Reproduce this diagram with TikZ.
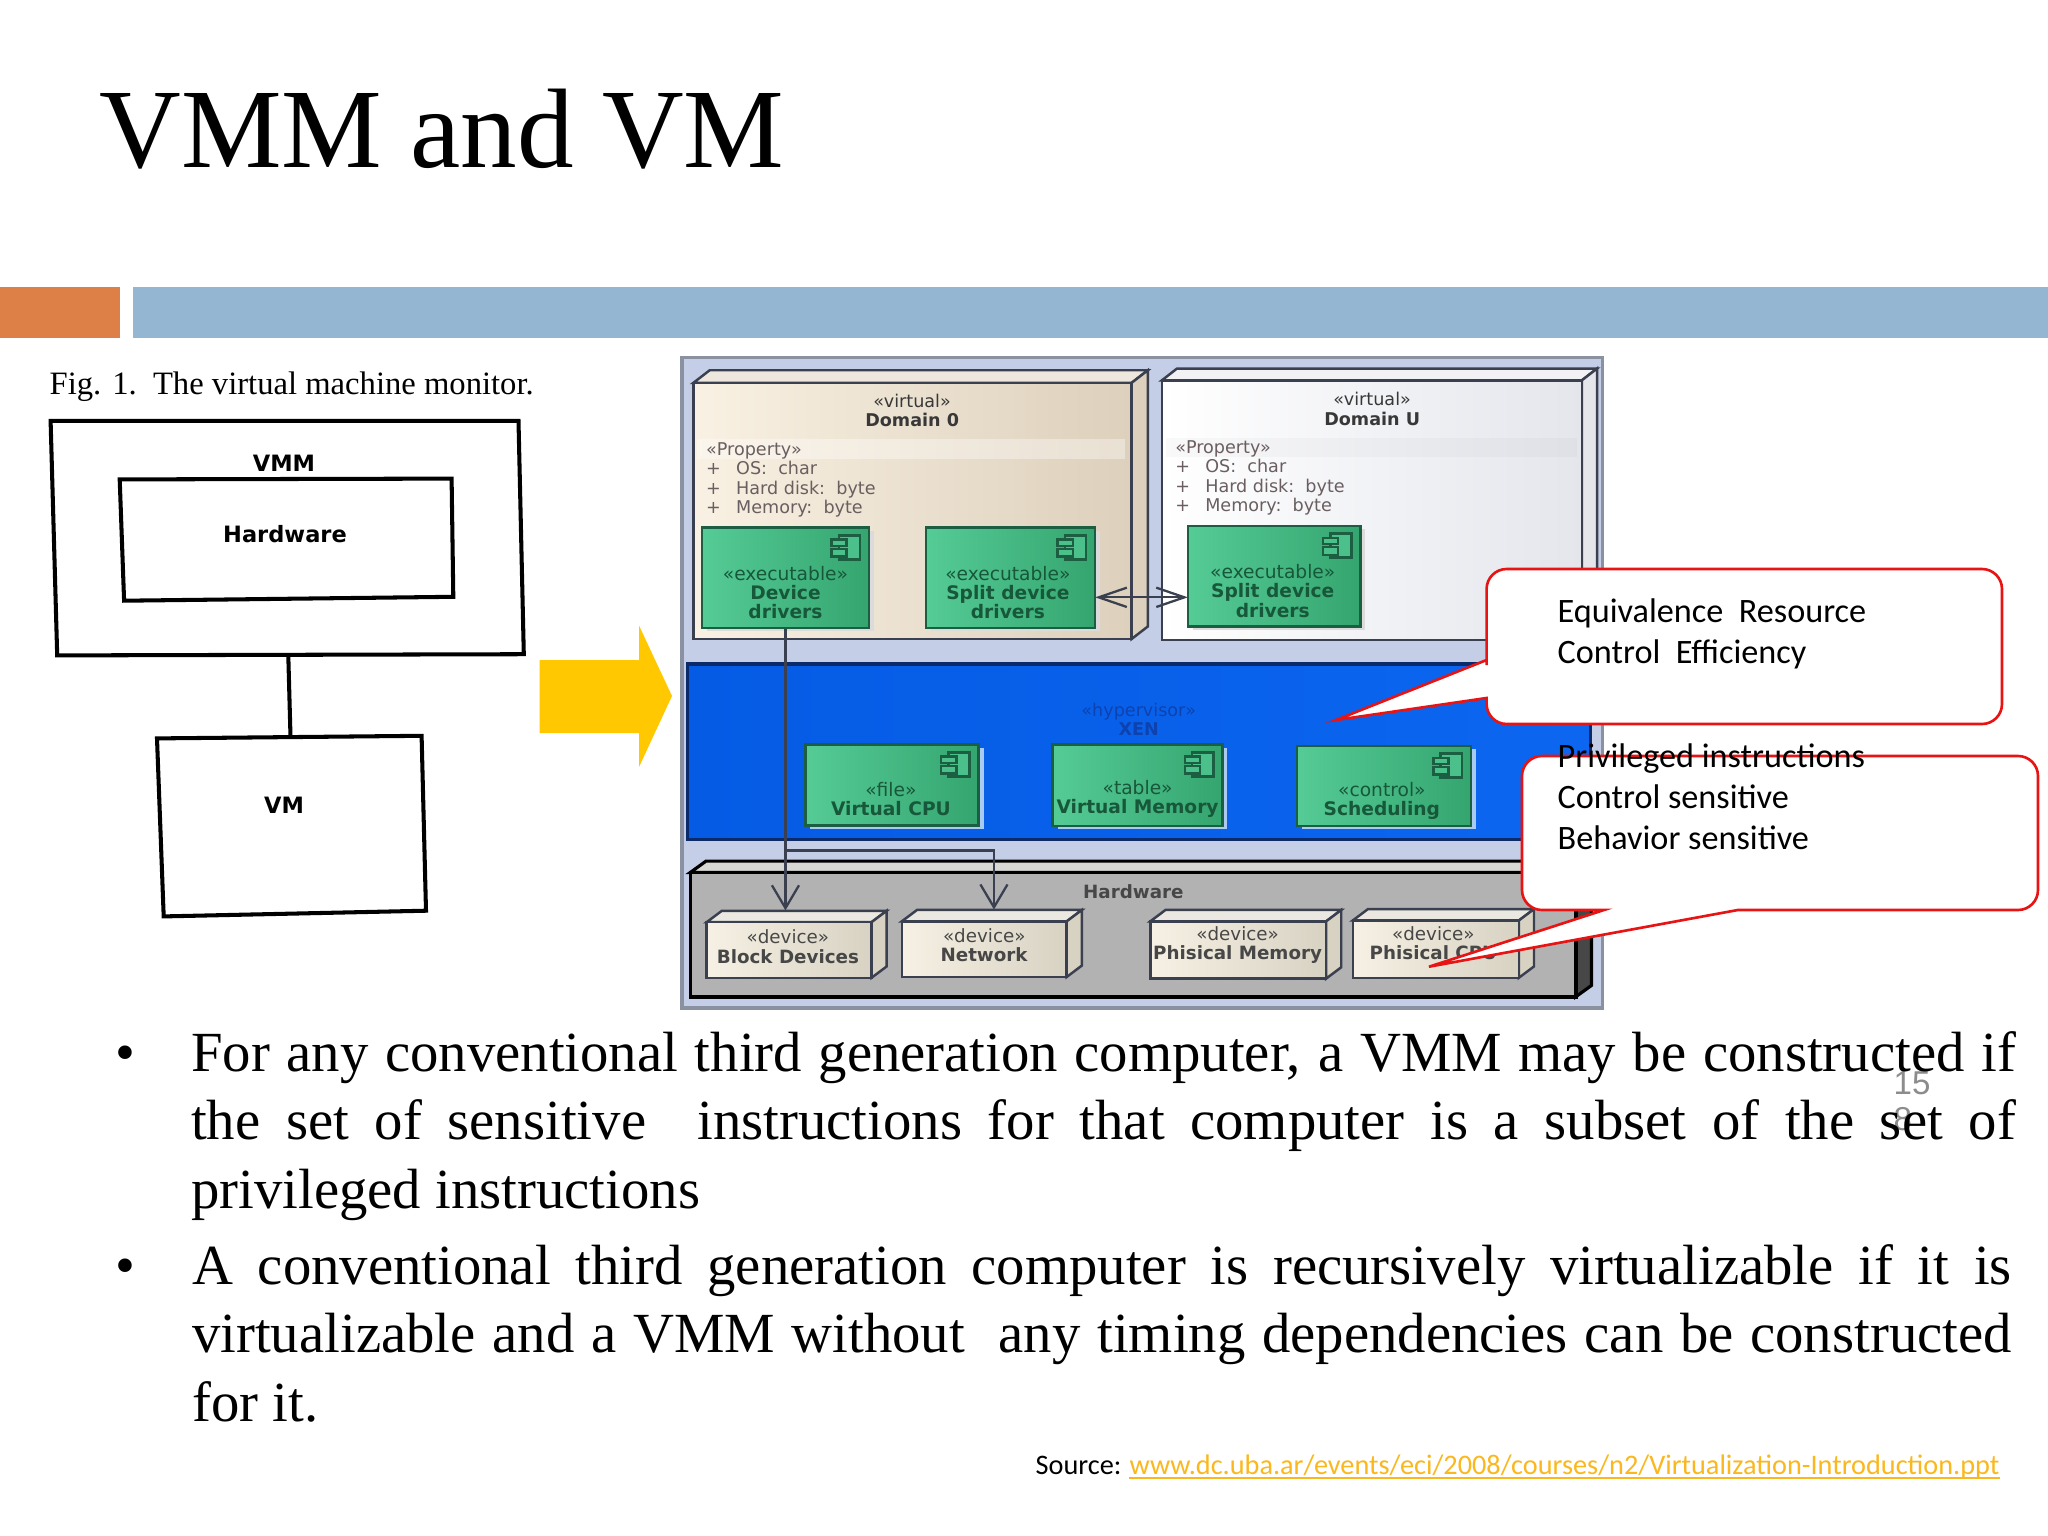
\documentclass[tikz,border=0pt]{standalone}
\usepackage{fontspec}
\setmainfont{Liberation Serif}
\newfontfamily\djfont{DejaVu Sans}
\newfontfamily\carlfont{Carlito}
\newfontfamily\lsfont{Liberation Sans}
\usetikzlibrary{arrows.meta,fit,calc}
\newcommand\fsz[2]{\fontsize{#1}{#2}\selectfont}
\definecolor{barorange}{HTML}{DD8047}
\definecolor{barblue}{HTML}{94B6D2}
\definecolor{arrowyellow}{HTML}{FFC800}
\definecolor{framefill}{HTML}{C4CFE7}
\definecolor{frameline}{HTML}{8A92A2}
\definecolor{pkgline}{HTML}{3A4050}
\definecolor{greenL}{HTML}{55CB96}
\definecolor{greenR}{HTML}{35A56F}
\definecolor{greenline}{HTML}{1C5E42}
\definecolor{greentext}{HTML}{17573A}
\definecolor{xenL}{HTML}{055BE4}
\definecolor{xenR}{HTML}{0C66F0}
\definecolor{xenline}{HTML}{0A2A6A}
\definecolor{xentext}{HTML}{0E42AE}
\definecolor{proptext}{HTML}{6A5E60}
\definecolor{linkcol}{HTML}{FBB81E}
\definecolor{callred}{HTML}{E81414}
\definecolor{pagegray}{HTML}{8C8C8C}
\definecolor{pkzL}{HTML}{F9F1E3}
\definecolor{pkzR}{HTML}{DDD0BC}
\definecolor{pkuL}{HTML}{FFFFFF}
\definecolor{pkuR}{HTML}{E4E6EC}
\definecolor{devL}{HTML}{F6F1E4}
\definecolor{devR}{HTML}{D8D2C3}
\definecolor{hwtop}{HTML}{D8D8D4}
\definecolor{xenshadow}{HTML}{A9CBF2}
\tikzset{
  scanline/.style={line width=1.15pt,black},
  scanlabel/.style={inner sep=0,font=\djfont\bfseries\fsz{6.4}{7}},
  compbox/.style={draw=greenline,line width=0.75pt,left color=greenL,right color=greenR,inner sep=0},
  comptext/.style={inner sep=0,align=center,text=greentext,font=\djfont\fsz{5.3}{5.5}},
  pkgtext/.style={inner sep=0,align=center,text=black!78,font=\djfont\fsz{5}{5.45}},
  devtext/.style={inner sep=0,align=center,text=black!72,font=\djfont\fsz{5.2}{5.45}},
  proptextstyle/.style={inner sep=0,anchor=west,align=left,text=proptext,font=\djfont\fsz{5}{5.55}},
  wire/.style={draw=pkgline,line width=0.65pt},
  callout/.style={draw=callred,fill=white,line width=0.75pt},
  calltext/.style={inner sep=0,anchor=base west,font=\carlfont},
  bodypar/.style={inner sep=0,anchor=base west},
}
% name, x1,y1,x2,y2, shadow colour
\newcommand\compbox[6]{%
  \fill[#6] (#2+8,#3+8) rectangle (#4+8,#5+8);
  \coordinate (#1-a) at (#2,#3);
  \coordinate (#1-b) at (#4,#5);
  \node[compbox,fit=(#1-a)(#1-b)] (#1) {};
  \draw[greenline,line width=0.7pt,fill=greenL!70!greenR] (#4-50,#3+18) rectangle (#4-15,#3+75);
  \draw[greenline,line width=0.7pt,fill=greenL!70!greenR] (#4-62,#3+28) rectangle (#4-37,#3+43);
  \draw[greenline,line width=0.7pt,fill=greenL!70!greenR] (#4-62,#3+50) rectangle (#4-37,#3+68);
}
% name, x1,y1,x2,y2, left colour, right colour (depth in \dxx,\dyy)
\newcommand\solidbox[7]{%
  \coordinate (#1-a) at (#2,#3);
  \coordinate (#1-b) at (#4,#5);
  \draw[pkgline,line width=0.7pt,fill=#7!50!white] (#2,#3) -- (#2+\dxx,#3-\dyy) -- (#4+\dxx,#3-\dyy) -- (#4,#3) -- cycle;
  \draw[pkgline,line width=0.7pt,fill=#7] (#4,#3) -- (#4+\dxx,#3-\dyy) -- (#4+\dxx,#5-\dyy) -- (#4,#5) -- cycle;
  \node[draw=pkgline,line width=0.7pt,left color=#6,right color=#7,inner sep=0,fit=(#1-a)(#1-b)] (#1) {};
}
\begin{document}
\begin{tikzpicture}[x=0.01cm,y=-0.01cm]
\useasboundingbox (0,0) rectangle (2048,1536);
\fill[white] (0,0) rectangle (2048,1536);

% title and bars
\node[inner sep=0,anchor=base west,font=\fsz{32.15}{36}] (title) at (99,167) {VMM and VM};
\fill[barorange] (0,287) rectangle (120,338);
\fill[barblue] (132.5,287) rectangle (2048,338);

% left scanned figure
\node[inner sep=0,anchor=base west,font=\fsz{9.28}{10}] (figcap) at (49,394) {Fig. 1.\ \ The virtual machine monitor.};
\draw[scanline] (50.6,420.8) -- (518.5,420.8) -- (523.8,654.2) -- (57.2,655.4) -- cycle;
\draw[scanline] (119.7,479.4) -- (451.6,478.6) -- (453.3,596.8) -- (124.1,600.7) -- cycle;
\draw[scanline] (157,738.4) -- (421.6,735.8) -- (426,910.7) -- (163.7,916.4) -- cycle;
\coordinate (vmmbottom) at (288.3,655.4);
\coordinate (vmtop) at (290.5,736.8);
\draw[scanline] (vmmbottom) -- (vmtop);
\node[scanlabel] (lblvmm) at (284,463) {VMM};
\node[scanlabel] (lblhw) at (285,534) {Hardware};
\node[scanlabel] (lblvm) at (284,805) {VM};

% yellow arrow
\fill[arrowyellow] (539.6,660) -- (639,660) -- (639,625.5) -- (672,696) -- (639,767) -- (639,733) -- (539.6,733) -- cycle;

% right picture, in the crop's own units
\begin{scope}[shift={(680,350)},x=0.0060606cm,y=-0.0042088cm]
  \draw[frameline,line width=1pt,fill=framefill] (3,18) rectangle (1522,1562);

  \def\dxx{27}\def\dyy{30}
  \solidbox{dom0}{22}{78}{745}{686}{pkzL}{pkzR}
  \def\dxx{25}\def\dyy{28}
  \solidbox{domu}{795}{72}{1488}{688}{pkuL}{pkuR}

  \node[pkgtext] (dom0t) at (383,143) {«virtual»\\\textbf{Domain 0}};
  \node[pkgtext] (domut) at (1142,140) {«virtual»\\\textbf{Domain U}};
  \fill[white,opacity=0.35] (28,212) rectangle (735,258);
  \fill[black,opacity=0.025] (802,208) rectangle (1480,254);
  \node[proptextstyle] (prop0) at (42,308) {«Property»\\\makebox[0.3cm][l]{+}OS:\ \ char\\\makebox[0.3cm][l]{+}Hard disk:\ \ byte\\\makebox[0.3cm][l]{+}Memory:\ \ byte};
  \node[proptextstyle] (propu) at (816,304) {«Property»\\\makebox[0.3cm][l]{+}OS:\ \ char\\\makebox[0.3cm][l]{+}Hard disk:\ \ byte\\\makebox[0.3cm][l]{+}Memory:\ \ byte};

  \compbox{dd}{36}{422}{312}{660}{black!14}
  \compbox{sd}{406}{422}{685}{660}{black!14}
  \compbox{su}{838}{418}{1123}{656}{black!14}
  \node[comptext] (ddt) at (174,576) {«executable»\\\textbf{Device}\\\textbf{drivers}};
  \node[comptext] (sdt) at (541,576) {«executable»\\\textbf{Split device}\\\textbf{drivers}};
  \node[comptext] (sut) at (978,572) {«executable»\\\textbf{Split device}\\\textbf{drivers}};

  % hypervisor
  \coordinate (xen-a) at (12,745); \coordinate (xen-b) at (1502,1162);
  \node[draw=xenline,line width=1pt,left color=xenL,right color=xenR,inner sep=0,fit=(xen-a)(xen-b)] (xen) {};
  \node[inner sep=0,align=center,text=xentext,font=\djfont\fsz{5}{5.45}] (xent) at (757,877) {«hypervisor»\\\textbf{XEN}};
  \compbox{vc}{207}{937}{493}{1128}{xenshadow}
  \compbox{vm}{615}{937}{895}{1130}{xenshadow}
  \compbox{sc}{1018}{940}{1305}{1130}{xenshadow}
  \node[comptext] (vct) at (348,1066) {«file»\\\textbf{Virtual CPU}};
  \node[comptext] (vmt) at (755,1066) {«table»\\\textbf{Virtual Memory}};
  \node[comptext] (sct) at (1158,1070) {«control»\\\textbf{Scheduling}};

  % hardware
  \coordinate (hw-a) at (17,1240); \coordinate (hw-b) at (1478,1535);
  \draw[black,line width=0.9pt,fill=hwtop] (17,1240) -- (43,1213) -- (1504,1213) -- (1478,1240) -- cycle;
  \draw[black,line width=0.9pt,fill=black!72] (1478,1240) -- (1504,1213) -- (1504,1508) -- (1478,1535) -- cycle;
  \node[draw=black,line width=1pt,fill=black!30,inner sep=0,fit=(hw-a)(hw-b)] (hw) {};
  \node[devtext] (hwt) at (748,1286) {\textbf{Hardware}};

  \def\dxx{25}\def\dyy{27}
  \solidbox{bd}{44}{1358}{316}{1490}{devL}{devR}
  \solidbox{nw}{366}{1356}{638}{1488}{devL}{devR}
  \solidbox{pm}{776}{1356}{1066}{1492}{devL}{devR}
  \solidbox{pc}{1110}{1354}{1384}{1490}{devL}{devR}
  \node[devtext] (bdt) at (178,1416) {«device»\\\textbf{Block Devices}};
  \node[devtext] (nwt) at (502,1413) {«device»\\\textbf{Network}};
  \node[devtext] (pmt) at (920,1413) {«device»\\\textbf{Phisical Memory}};
  \node[devtext] (pct) at (1243,1408) {«device»\\\textbf{Phisical CPU}};

  % connectors
  \coordinate (bdin) at (dd.south |- 0,1330);
  \coordinate (branch) at (dd.south |- 0,1188);
  \coordinate (nwin) at (518,1328);
  \coordinate (sdout) at (685,587);
  \coordinate (suin) at (838,587);
  \draw[wire,-{Straight Barb[length=6.5pt,width=7.7pt]}] (dd.south) -- (bdin);
  \draw[wire,-{Straight Barb[length=6.5pt,width=7.7pt]}] (branch) -| (nwin);
  \draw[wire,{Straight Barb[length=8pt,width=5.5pt]}-{Straight Barb[length=8pt,width=5.5pt]}] (sdout) -- (suin);
\end{scope}

% callouts
\draw[callout] (1486.6,698) -- (1486.6,702) [rounded corners=0.2cm] -- (1486.6,724) -- (2002,724) -- (2002,569) -- (1486.6,569) -- (1486.6,645) [sharp corners] -- (1486.6,660) -- (1336,720) -- cycle;
\draw[callout] (1604,910) -- (1590,910) [rounded corners=0.2cm] -- (1522,910) -- (1522,756) -- (2038,756) -- (2038,910) -- (1760,910) [sharp corners] -- (1737.8,910) -- (1429,966.7) -- cycle;
\node[calltext] (call1) at (1557,622) {\parbox[t]{4cm}{\fsz{9.73}{11.66}Equivalence\ \ Resource\\Control\ \ Efficiency}};
\node[calltext] (call2) at (1557,767) {\parbox[t]{4cm}{\fsz{9.73}{11.66}Privileged instructions\\Control sensitive\\Behavior sensitive}};

% page number, under the body text
\node[inner sep=0,anchor=base west,text=pagegray,font=\lsfont\fsz{9.4}{10}] (pnum1) at (1893,1094) {15};
\node[inner sep=0,anchor=base west,text=pagegray,font=\lsfont\fsz{9.4}{10}] (pnum2) at (1893,1130) {8};

% body
\node[bodypar,font=\fsz{16.13}{19.5}] (bul1) at (115,1071) {•};
\node[bodypar,font=\fsz{16.13}{19.5}] (bul2) at (115,1284) {•};
\node[bodypar] (par1) at (190.5,1071) {\parbox[t]{18.235cm}{\fsz{16.13}{19.5}\tolerance=9999\emergencystretch=1cm For any conventional third generation computer, a VMM may be constructed if\linebreak the set of sensitive\ \ instructions for that computer is a subset of the set of\linebreak privileged instructions}};
\node[bodypar] (par2) at (191.5,1284) {\parbox[t]{18.185cm}{\fsz{16.13}{19.5}\tolerance=9999\emergencystretch=1cm A conventional third generation computer is recursively virtualizable if it is\linebreak virtualizable and a VMM without\ \ any timing dependencies can be constructed\linebreak for it.}};

% source
\node[inner sep=0,anchor=base west,font=\carlfont\fsz{8.04}{9}] (src) at (1035,1474) {Source:};
\node[inner sep=0,anchor=base west,text=linkcol,font=\carlfont\fsz{8.04}{9}] (link) at (1129,1474) {www.dc.uba.ar/events/eci/2008/courses/n2/Virtualization-Introduction.ppt};
\coordinate (linkl) at ([yshift=-1.1pt]link.base west);
\coordinate (linkr) at ([yshift=-1.1pt]link.base east);
\draw[linkcol,line width=0.45pt] (linkl) -- (linkr);
\end{tikzpicture}
\end{document}
